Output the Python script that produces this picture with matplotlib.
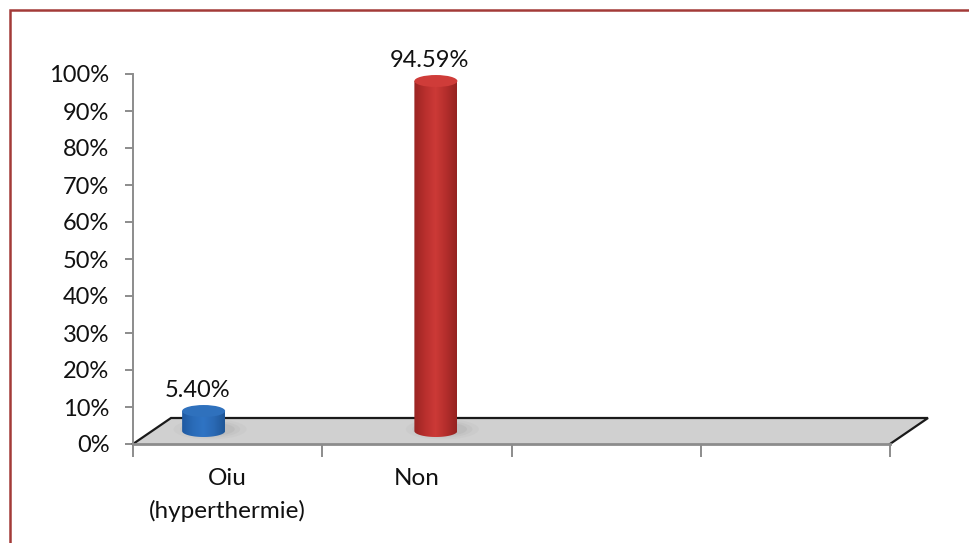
import matplotlib
matplotlib.use("Agg")
import matplotlib.pyplot as plt
import numpy as np
from matplotlib.lines import Line2D
from matplotlib.patches import Ellipse, PathPatch, Polygon
from matplotlib.path import Path
from matplotlib.colors import LinearSegmentedColormap

categories = ["Oiu\n(hyperthermie)", "Non"]
values = [5.40, 94.59]
value_labels = ["5.40%", "94.59%"]
y_ticks = [0, 10, 20, 30, 40, 50, 60, 70, 80, 90, 100]
n_slots = 4

# cylinder shading, left to right across the barrel
blue_shades = ["#1f5aa2", "#2a6bb8", "#2f74c4", "#2a69b4", "#1f5798"]
red_shades = ["#9a2523", "#b82f2d", "#cc3a37", "#b42e2c", "#962321"]
bar_shades = [blue_shades, red_shades]
top_colors = ["#2f71bd", "#cf3c39"]
text_color = "#111111"

plt.rcParams["font.family"] = ["Lato", "DejaVu Sans"]

W, H = 970, 543
fig = plt.figure(figsize=(W / 100, H / 100), dpi=100)

# border only runs along the top and left edges
fig.add_artist(Line2D([10.5 / W, 10.5 / W, 1], [0, 1 - 10 / H, 1 - 10 / H],
                      transform=fig.transFigure, color="#a33a38", linewidth=1.8,
                      solid_joinstyle="miter"))

ax = fig.add_axes([133 / W, 1 - 444 / H, 757 / W, 370 / H])
ax.set_xlim(0, n_slots)
ax.set_ylim(0, 100)
ax.patch.set_visible(False)
for side in ("top", "right", "bottom"):
    ax.spines[side].set_visible(False)
ax.spines["left"].set_color("#8c8c8c")
ax.spines["left"].set_linewidth(1.4)

ax.set_yticks(y_ticks)
ax.set_yticklabels([f"{t}%" for t in y_ticks], fontsize=17, color=text_color)
ax.set_xticks(np.arange(n_slots + 1))
ax.set_xticks(np.arange(len(categories)) + 0.5, minor=True)
ax.set_xticklabels([])
ax.set_xticklabels(categories, minor=True, fontsize=17.5, color=text_color,
                   linespacing=1.65)
ax.tick_params(axis="y", length=6, width=1.4, color="#8c8c8c", pad=11)
ax.tick_params(axis="x", which="major", length=9, width=1.4, color="#8c8c8c")
ax.tick_params(axis="x", which="minor", length=0, pad=17)

# floor of the 3-D box, sheared back and to the right
depth_x = 38 / 757 * n_slots
depth_y = 26 / 370 * 100
floor = Polygon([(0, 0), (n_slots, 0), (n_slots + depth_x, depth_y), (depth_x, depth_y)],
                closed=True, facecolor="#d0d0d0", edgecolor="none", clip_on=False, zorder=1)
ax.add_patch(floor)
ax.plot([0, depth_x, n_slots + depth_x, n_slots], [0, depth_y, depth_y, 0],
        color="#1a1a1a", linewidth=1.6, clip_on=False, zorder=2, solid_joinstyle="miter")
ax.plot([0, n_slots], [0, 0], color="#8c8c8c", linewidth=2, clip_on=False, zorder=2)

# bars sit mid-depth; series in a cluster are shifted by one bar width
bar_w = 43 / 757 * n_slots
rx = bar_w / 2
ry = 6 / 370 * 100
base = depth_y / 2
offsets = [depth_x / 2 - bar_w, depth_x / 2]

for i, (val, off) in enumerate(zip(values, offsets)):
    cx = i + 0.5 + off
    top = base + val
    z = 5 + i

    # soft shadow on the floor
    for grow, alpha in ((1.7, 0.05), (1.4, 0.07), (1.15, 0.09)):
        ax.add_patch(Ellipse((cx + rx * 0.3, base + ry * 0.3), 2 * rx * grow, 2 * ry * grow,
                             facecolor="#777777", alpha=alpha, edgecolor="none",
                             clip_on=False, zorder=3))

    t = np.linspace(np.pi, 2 * np.pi, 40)
    low_x = cx + rx * np.cos(t)
    low_y = base + ry * np.sin(t)
    verts = [(cx - rx, top)] + list(zip(low_x, low_y)) + [(cx + rx, top), (cx - rx, top)]
    codes = [Path.MOVETO] + [Path.LINETO] * (len(verts) - 2) + [Path.CLOSEPOLY]
    barrel = PathPatch(Path(verts, codes), facecolor="none", edgecolor="none", clip_on=False)
    ax.add_patch(barrel)

    cmap = LinearSegmentedColormap.from_list(f"barrel{i}", bar_shades[i])
    img = ax.imshow(np.linspace(0, 1, 64)[None, :], cmap=cmap, aspect="auto",
                    extent=[cx - rx, cx + rx, base - ry, top], zorder=z)
    img.set_clip_path(barrel)
    ax.set_xlim(0, n_slots)
    ax.set_ylim(0, 100)

    ax.add_patch(Ellipse((cx, top), 2 * rx, 2 * ry, facecolor=top_colors[i],
                         edgecolor="none", clip_on=False, zorder=z + 0.5))
    ax.text(cx - rx * 0.3, top + ry + 1.2, value_labels[i], ha="center", va="bottom",
            fontsize=17, color=text_color, zorder=10)

fig.savefig("out.png", dpi=100)
